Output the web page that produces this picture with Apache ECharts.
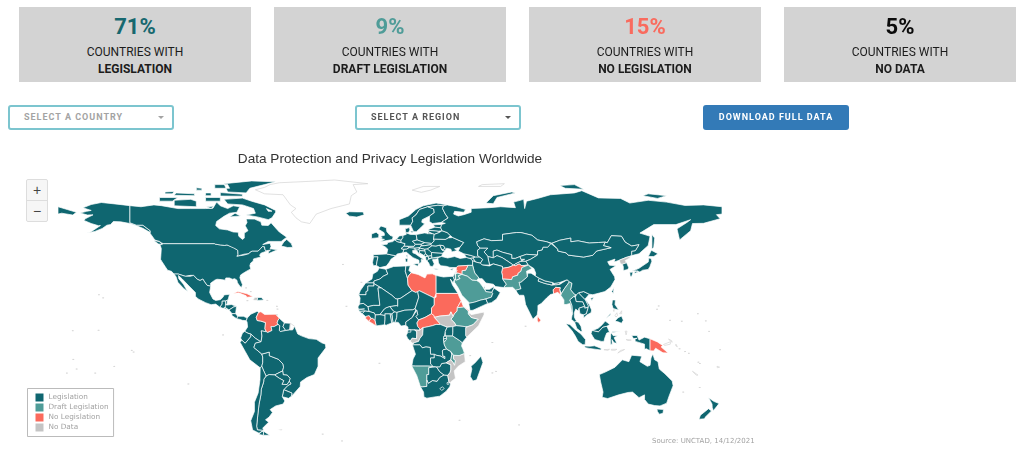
<!DOCTYPE html>
<html>
<head>
<meta charset="utf-8">
<title>Data Protection and Privacy Legislation Worldwide</title>
<script src="https://cdn.jsdelivr.net/npm/echarts@6/dist/echarts.min.js"></script>
<style>
  html, body { margin: 0; padding: 0; background: #fff; overflow: hidden; }
  #page { position: relative; width: 1024px; height: 449px; font-family: Roboto, sans-serif; }
  #worldMap { position: absolute; left: 0; top: 0; width: 1024px; height: 449px; }
  .card { position: absolute; top: 7px; width: 232px; height: 75px; background: #d3d3d3; text-align: center; color: #1c1c1c; font-size: 12px; }
  .card .pct { font-size: 22px; font-weight: 700; line-height: 26px; margin-top: 7px; }
  .card .lab { line-height: 17px; margin-top: 4px; }
  .card b { font-weight: 700; }
  .select, .download { position: absolute; top: 105px; height: 25px; box-sizing: border-box; border-radius: 3px; font-size: 9px; font-weight: 700; letter-spacing: 1px; line-height: 21px; }
  .select { width: 166px; border: 2px solid #7cc5cf; padding-left: 14px; background: #fff; }
  .select i { position: absolute; right: 8px; top: 9px; width: 0; height: 0; border-left: 3px solid transparent; border-right: 3px solid transparent; border-top: 3px solid currentColor; }
  .download { left: 703px; width: 146px; background: #337ab7; color: #fff; text-align: center; line-height: 25px; }
  .zoom { position: absolute; left: 26px; top: 179px; width: 20px; height: 41px; border: 1px solid #ddd; border-radius: 2px; background: #f6f6f6; color: #444; text-align: center; font: 400 14px/20px "Liberation Sans", sans-serif; }
  .zoom div + div { border-top: 1px solid #ddd; }
</style>
</head>
<body>
<div id="page">
  <div id="worldMap"></div>
  <div id="cards"></div>
  <div class="select" style="left:8px;color:#a3a3a3">SELECT A COUNTRY<i></i></div>
  <div class="select" style="left:355px;color:#555">SELECT A REGION<i></i></div>
  <div class="download">DOWNLOAD FULL DATA</div>
  <div class="zoom"><div>+</div><div>&minus;</div></div>
</div>
<script>
var statValues = ['71%', '9%', '15%', '5%'];
var statLabels = ['LEGISLATION', 'DRAFT LEGISLATION', 'NO LEGISLATION', 'NO DATA'];
var statColors = ['#17686f', '#4f9c98', '#f96b5e', '#0b0b0b'];
var statLefts = [19, 274, 529, 784];

var legendLabels = ['Legislation', 'Draft Legislation', 'No Legislation', 'No Data'];
var legendColors = ['#0f6670', '#4f9c98', '#fb6a5c', '#c4c4c4'];

var legislationCountries = ['USA', 'Canada', 'Mexico', 'Guatemala', 'Belize', 'Honduras', 'El Salvador', 'Nicaragua', 'Costa Rica', 'Panama', 'Dominican Rep.', 'Colombia', 'Guyana', 'Suriname', 'Ecuador', 'Peru', 'Bolivia', 'Brazil', 'Paraguay', 'Uruguay', 'Argentina', 'Chile', 'Iceland', 'Morocco', 'W. Sahara', 'Algeria', 'Tunisia', 'Egypt', 'Mauritania', 'Mali', 'Niger', 'Chad', 'Cameroon', 'Nigeria', 'Benin', 'Togo', 'Ghana', 'Burkina Faso', "Cote d'Ivoire", 'Guinea', 'Guinea-Bissau', 'Senegal', 'Gambia', 'Gabon', 'Eq. Guinea', 'DR Congo', 'Angola', 'Botswana', 'South Africa', 'Lesotho', 'Eswatini', 'Zimbabwe', 'Zambia', 'Kenya', 'Uganda', 'Rwanda', 'Burundi', 'Madagascar', 'Portugal', 'Spain', 'France', 'UK', 'Ireland', 'Netherlands', 'Belgium', 'Germany', 'Switzerland', 'Austria', 'Italy', 'Denmark', 'Norway', 'Sweden', 'Finland', 'Estonia', 'Latvia', 'Lithuania', 'Poland', 'Czechia', 'Slovakia', 'Hungary', 'Slovenia', 'Croatia', 'Bosnia', 'Serbia', 'Montenegro', 'Albania', 'N. Macedonia', 'Greece', 'Bulgaria', 'Romania', 'Moldova', 'Ukraine', 'Belarus', 'Turkey', 'Cyprus', 'Georgia', 'Armenia', 'Azerbaijan', 'Russia', 'Kazakhstan', 'Uzbekistan', 'Turkmenistan', 'Tajikistan', 'Kyrgyzstan', 'Caspian', 'Iran', 'Lebanon', 'Israel', 'Yemen', 'Oman', 'UAE', 'Qatar', 'India', 'Nepal', 'Bhutan', 'Thailand', 'Laos', 'Cambodia', 'Vietnam', 'China', 'Mongolia', 'Taiwan', 'South Korea', 'Japan', 'Philippines', 'Indonesia', 'Malaysia', 'Australia', 'New Zealand'];
var draftCountries = ['Namibia', 'Malawi', 'Tanzania', 'Ethiopia', 'Pakistan', 'Iraq', 'Jordan', 'Saudi Arabia', 'Myanmar'];
var noLegislationCountries = ['Cuba', 'Venezuela', 'Libya', 'Sudan', 'Eritrea', 'Central African Rep.', 'Liberia', 'Sierra Leone', 'Afghanistan', 'Syria', 'Bangladesh', 'Sri Lanka', 'Papua New Guinea'];
var noDataCountries = ['Haiti', 'Somalia', 'South Sudan', 'Congo', 'Mozambique', 'North Korea', 'Falklands'];
// drawn in the reference as an empty grey outline
var outlineOnly = ['Greenland', 'Svalbard', 'Franz Josef Land', 'French Guiana', 'Visayas', 'Melanesia', 'Lesser Sunda', 'Minor islands'];

var minorIslands = [[-157.8,21.3],[-155.5,19.6],[-149.5,-17.6],[-171.7,-13.8],[-175.2,-21.2],[-159.8,-21.2],[-140,-8.9],[-139,-9.8],[-172,1.8],[-158,2],[-109.3,-27.1],[-90.5,-0.5],[-78,25],[-75.5,23],[-77.3,18.1],[-66.5,18.2],[-61.3,15],[-61,13.5],[-61.3,10.4],[-15.5,28],[-25.5,37.7],[-23.6,15],[-5.7,-15.9],[-36.5,-54.3],[-26,-58],[57.5,-20.3],[55.5,-21.1],[43.5,-11.7],[55.5,-4.6],[73.5,4.2],[70,-49.3],[37.7,-46.8],[166.9,11],[158.2,6.9],[151.8,7.4],[144.8,13.4],[145.7,15.2],[171.2,7.1],[173,1.4],[179,-8.5],[168,-16],[167.2,-15.3],[160,-9.5],[157,-8],[162,-10.5],[-169.9,-19],[-176,-44],[159,-31.5],[167.9,-29]];

var worldShapes = {
  'USA': [
    [-141,69.6,-148,70.4,-156.5,71.3,-162,70.2,-166.5,68.4,-162,67,-164.5,66.5,-168,65.6,-164,64.5,-161,64.6,-165,62.6,-166,61.6,-162,59.9,-158,58.7,-157,58.8,-162,55.5,-164.5,54.7,-160,55.6,-156,57.2,-153.5,59,-151.5,59.3,-150,61,-146,60.8,-141,59.9,-137,58.5,-134,57.3,-130,55,-130,56,-134,59,-137.5,59,-141,60.3],
    [-124.7,48.4,-123,49,-95.2,49,-94.6,48.7,-92,48.3,-89.6,48,-88.4,48.3,-84.8,46.9,-84.5,46.5,-83.5,46,-82.5,45.3,-82.4,43,-83,42.2,-79,42.8,-79,43.3,-76.5,43.6,-76,44.3,-74.7,45,-71.5,45,-70.3,46.2,-69.2,47.4,-68,47.3,-67.8,45.7,-67,44.9,-70,43.8,-70.7,42.7,-70,41.8,-71.5,41.4,-74,40.7,-74.2,39.5,-75.5,38.5,-76,37,-75.5,35.3,-77.5,34.2,-79,33.3,-81,32,-81.4,30.5,-80.5,28,-80,26.8,-80.5,25.2,-81.3,25.8,-82.7,27.8,-83,29.2,-84.2,30,-85.5,29.7,-87,30.4,-89,30.4,-89.4,29.2,-91.5,29.5,-93.8,29.7,-95,29.2,-97.3,27.5,-97.2,25.9,-99.2,26.4,-100.5,28.2,-101.5,29.8,-103,29,-104.5,29.7,-106.5,31.8,-108.2,31.8,-108.2,31.3,-111,31.3,-114.8,32.5,-117.1,32.5,-118.5,34,-120.6,34.6,-122,36.7,-123.8,39.5,-124.4,40.5,-124.2,43,-124,46.3]
  ],
  'Canada': [
    [-141,69.6,-135,69,-128,70,-124,69.6,-115,68,-108,68,-100,68,-96,68.2,-94,71.5,-92,69.5,-88,68,-85,69.5,-81.5,69,-83,66,-87,65.5,-90,63.8,-94,61,-94.5,58.8,-92.5,57,-88,56.4,-85,55.3,-82.3,55.2,-82,53,-80,51.3,-79,52,-79,54.7,-77,56,-78.5,58.7,-77.5,60.5,-78,62.4,-73.5,62.3,-70,60.8,-69.5,59,-66,58.8,-64.5,60.3,-62,57.5,-60,55.3,-56,52.5,-59,50.2,-66,50.2,-69,48.5,-65,49.2,-64.5,47.5,-65,46.2,-61,45.7,-65.8,43.6,-66,44.5,-64.8,45.5,-67,45.2,-67.8,45.7,-68,47.3,-69.2,47.4,-70.3,46.2,-71.5,45,-74.7,45,-76,44.3,-76.5,43.6,-79,43.3,-79,42.8,-83,42.2,-82.4,43,-82.5,45.3,-83.5,46,-84.5,46.5,-84.8,46.9,-88.4,48.3,-89.6,48,-92,48.3,-94.6,48.7,-95.2,49,-123,49,-125,50,-127.5,51,-130,54.5,-130,55,-130,56,-134,59,-137.5,59,-141,60.3],
    [-123.5,48.4,-125.5,48.8,-128,50.5,-125,50.3],
    [-59,47.7,-55.5,46.9,-52.7,47,-53.5,49,-56,51.3,-57.5,50],
    [-62,66,-64,63,-66,62,-72,63.5,-78,64.5,-73,65.5,-74,68,-80,70,-88,70.5,-90,73,-80,73.7,-75,72,-68,70,-62,67],
    [-105,69,-117,69.5,-117,72.5,-108,73,-105,72],
    [-125,72,-118,72,-115,74,-125,74],
    [-62,82.5,-75,83,-90,81.5,-88,77,-78,76.5,-76,79,-68,81],
    [-80,74.7,-92,74.8,-92,76.7,-80,75.8],
    [-106,75,-117,75.2,-116,76.5,-106,76],
    [-87,79,-95,79,-95,81,-88,81],
    [-81,64,-87,63.5,-84,65.5],
    [-92,72,-100,72,-100,74,-92,74],
    [-99.5,69,-95.5,69.3,-97,68],
    [-97,75,-100,75,-100,76.5,-97,76.5],
    [-102,78,-105,78,-105,79.3,-102,79],
    [-118,76,-122,76,-122,77,-117,77.3],
    [-64,66.6,-67,68,-66,66.5]
  ],
  'Greenland': [[-73,78.2,-68,76,-58,75.5,-54,70,-51,68,-53.5,66,-51,63,-48,60.8,-43.5,59.9,-40,65,-32,68,-22,70.5,-21,75,-18,77,-20,81,-12,81.5,-30,83.5,-45,82.7,-60,82,-65,81,-68,79.5]],
  'Iceland': [[-24,65.5,-22,63.9,-18,63.4,-14,64.6,-14.6,66.2,-18,66.2,-22,66.3]],
  'Svalbard': [[12,78,17,76.8,22,78,27,80,18,80]],
  'Franz Josef Land': [[48,80,60,80,62,81.5,50,81]],
  'Mexico': [[-117.1,32.5,-114.8,32.5,-111,31.3,-108.2,31.3,-108.2,31.8,-106.5,31.8,-104.5,29.7,-103,29,-101.5,29.8,-100.5,28.2,-99.2,26.4,-97.2,25.9,-97.8,22.5,-96,19,-94.5,18.2,-92,18.6,-90.5,20,-90,21.2,-87,21.5,-87.8,18.5,-89.1,17.9,-91,17.8,-91,16.2,-92.2,14.5,-94.5,16.2,-97,15.9,-100,17,-104,19,-105.5,20.5,-105.5,22.5,-109,26,-112.8,30,-114.7,31.7,-114.5,30,-112,27,-109.7,23,-112,24.8,-115,28,-116,31]],
  'Guatemala': [[-92.2,14.5,-91,16.2,-91,17.8,-89.1,17.9,-89.2,15.9,-88.2,15.7,-89.3,14.4,-90.5,13.9]],
  'Belize': [[-89.1,17.9,-88.2,18.4,-88.3,16.4,-89.2,15.9]],
  'Honduras': [[-89.2,15.9,-88.2,15.7,-86,16,-83.2,15,-84.7,14.7,-87.3,13,-87.7,13.5,-89.3,14.4]],
  'El Salvador': [[-90,14,-88,13.2,-87.7,13.5,-89.3,14.4]],
  'Nicaragua': [[-87.3,13,-84.7,14.7,-83.2,15,-83.7,11,-85.7,11.1]],
  'Costa Rica': [[-85.7,11.1,-83.7,11,-82.6,9.6,-83,8.2,-85.7,10]],
  'Panama': [[-83,8.2,-82.6,9.6,-79.5,9.6,-77.4,8.7,-77.9,7.2,-80,7.4,-81.7,8]],
  'Cuba': [[-85,22,-82.5,23.1,-77.5,21.8,-74.2,20.2,-77.7,19.9,-78,20.7,-82,22.3]],
  'Haiti': [[-74.4,18.4,-72,18.2,-71.7,19.8,-73.2,19.9]],
  'Dominican Rep.': [[-71.7,19.8,-72,18.2,-68.4,18.5,-69.8,19.8]],
  'Colombia': [[-77.4,8.7,-75.5,10.7,-72,12.3,-71.3,11.6,-72.5,9,-72,7.3,-70,7,-67.5,6.2,-67.8,2.8,-67,1.2,-69.8,1.7,-69.4,-1.1,-69.9,-4.2,-70.7,-3.8,-73,-2.3,-75.3,-0.1,-77,0.4,-78.8,1.4,-77.2,3.8,-77.5,6.5,-77.9,7.2]],
  'Venezuela': [[-71.3,11.6,-70,12.1,-68,10.6,-62,10.7,-60,8.5,-60.7,7.5,-61.2,6,-60.7,5.2,-62.8,4,-64.5,4,-64,1.9,-66.3,0.8,-67,1.2,-67.8,2.8,-67.5,6.2,-70,7,-72,7.3,-72.5,9]],
  'Guyana': [[-60,8.5,-57.2,6,-58,4,-56.5,1.9,-59.5,1.3,-60,2,-59.8,4.5,-60.7,5.2,-61.2,6,-60.7,7.5]],
  'Suriname': [[-57.2,6,-54,5.8,-54.4,2.2,-56.5,1.9,-58,4]],
  'French Guiana': [[-54,5.8,-51.7,4.2,-52.8,2.2,-54.4,2.2]],
  'Ecuador': [[-78.8,1.4,-77,0.4,-75.3,-0.1,-75.5,-1.5,-78.5,-5,-80.3,-3.4,-81,-2.2,-80,0.5]],
  'Peru': [[-81.3,-4.5,-80.3,-3.4,-78.5,-5,-75.5,-1.5,-75.3,-0.1,-73,-2.3,-70.7,-3.8,-69.9,-4.2,-73,-5,-73.8,-7.3,-69.5,-10.9,-69,-12.5,-69,-15.5,-69.5,-17.5,-70.4,-18.3,-76,-14,-78.5,-9.5]],
  'Bolivia': [[-69.5,-10.9,-65.4,-9.8,-65.4,-11.8,-60.5,-13.7,-58,-16.3,-57.7,-18,-58.2,-20,-62.6,-22.2,-65.5,-22,-67.2,-22.8,-68.7,-19.5,-69.5,-17.5,-69,-15.5,-69,-12.5]],
  'Brazil': [[-51.7,4.2,-50,0,-48,-1,-44,-2.5,-40,-2.9,-37,-4.8,-35,-5.5,-34.8,-7.5,-39,-13,-39,-17.5,-41,-22,-45,-23.6,-48.5,-26,-48.7,-28.5,-52,-32.2,-53.4,-33.7,-53.2,-32,-57.6,-30.2,-55.5,-28,-53.7,-27,-54.6,-25.6,-54.2,-24,-55.7,-22.3,-57.9,-22.1,-58.2,-20,-57.7,-18,-58,-16.3,-60.5,-13.7,-65.4,-11.8,-65.4,-9.8,-69.5,-10.9,-73.8,-7.3,-73,-5,-69.9,-4.2,-69.4,-1.1,-69.8,1.7,-67,1.2,-66.3,0.8,-64,1.9,-64.5,4,-62.8,4,-60.7,5.2,-59.8,4.5,-60,2,-59.5,1.3,-56.5,1.9,-54.4,2.2,-52.8,2.2]],
  'Paraguay': [[-58.2,-20,-57.9,-22.1,-55.7,-22.3,-54.2,-24,-54.6,-25.6,-55.8,-27.4,-58.6,-27.3,-57.6,-25.3,-60,-24,-62.6,-22.2]],
  'Uruguay': [[-57.6,-30.2,-53.2,-32,-53.4,-33.7,-55,-34.9,-58.4,-34,-58,-32]],
  'Argentina': [
    [-67.2,-22.8,-65.5,-22,-62.6,-22.2,-60,-24,-57.6,-25.3,-58.6,-27.3,-55.8,-27.4,-54.6,-25.6,-53.7,-27,-55.5,-28,-57.6,-30.2,-58,-32,-58.4,-34,-57,-36.3,-58,-38,-62,-39,-65,-41,-63.7,-42.5,-65.5,-45,-67.5,-46.5,-65.8,-47.8,-69,-51,-68.4,-52.3,-71.9,-52,-72.3,-50,-71.7,-44,-71,-38,-70,-33,-69.8,-30,-68.5,-26,-68.4,-24.5],
    [-68.6,-52.7,-65.2,-54.9,-68.6,-54.9]
  ],
  'Chile': [
    [-70.4,-18.3,-69.5,-17.5,-68.7,-19.5,-67.2,-22.8,-68.4,-24.5,-68.5,-26,-69.8,-30,-70,-33,-71,-38,-71.7,-44,-72.3,-50,-71.9,-52,-68.4,-52.3,-71,-53.8,-74.5,-52,-75.5,-47,-73.5,-42,-73.5,-37,-71.5,-32,-70.5,-25],
    [-68.6,-52.7,-68.6,-54.9,-71,-54.5,-70,-53]
  ],
  'Falklands': [[-61,-51.8,-58,-51.5,-59,-52.3]],
  'Morocco': [[-5.9,35.8,-2.2,35.1,-1.2,32.5,-3.7,31.3,-5.5,29.8,-8.7,28.7,-8.7,27.7,-13.2,27.7,-9.8,29.8,-9.3,32.5,-6.8,34]],
  'W. Sahara': [[-8.7,27.7,-8.7,26,-12,26,-12,23.4,-13,23,-13,21.3,-17,21.3,-16,23.7,-13.2,27.7]],
  'Algeria': [[-2.2,35.1,2,36.6,8.6,36.9,8.3,34,9.5,30.2,9.8,26.5,11.9,23.5,5.8,19.4,4.2,19,3.2,19,1,21,-4.8,25,-8.7,27.3,-8.7,28.7,-5.5,29.8,-3.7,31.3,-1.2,32.5]],
  'Tunisia': [[8.6,36.9,11,37,10.2,34.5,11.5,33.2,10,31.5,9.5,30.2,8.3,34]],
  'Libya': [[11.5,33.2,15.2,32.3,19,30.4,20,32.5,23,32.6,25,31.7,25,22,24,19.5,16,23.4,15,23,14,22.5,11.9,23.5,9.8,26.5,9.5,30.2,10,31.5]],
  'Egypt': [[25,31.7,29,30.9,32.5,31.2,34.2,31.3,34.9,29.5,34.2,27.8,32.7,29.8,33.9,26.5,36.9,22,25,22]],
  'Mauritania': [[-17,21.3,-13,21.3,-13,23,-12,23.4,-12,26,-8.7,26,-8.7,27.3,-4.8,25,-6.5,25,-5.5,15.5,-9,15.5,-12,14.8,-14.5,16.6,-16.5,16.2,-16.2,19.5]],
  'Mali': [[-4.8,25,1,21,3.2,19,4.2,19,4.2,15,3.5,15.4,1,15,0,14.9,-2,14.2,-3,13.6,-5.5,10.5,-8,10.3,-8.5,11.4,-11.4,12.2,-12,14.8,-9,15.5,-5.5,15.5,-6.5,25]],
  'Niger': [[4.2,19,5.8,19.4,11.9,23.5,14,22.5,15,23,15.6,19.9,13.6,13.7,12.3,13.1,8,12.9,3.7,11.7,2.4,12,1,13.3,0,14.9,1,15,3.5,15.4,4.2,15]],
  'Chad': [[15,23,16,23.4,24,19.5,24,15.7,22.5,14,22.5,11,19,9,15.5,7.6,14,9.5,15,10.5,14.5,12.8,13.6,13.7,15.6,19.9]],
  'Sudan': [[25,22,36.9,22,37.4,20.5,38.6,18,36.5,14.3,36.4,12.5,35,11,34.2,9.5,33,12,32.3,10.2,27,9.7,24,9,23.8,10,22.5,11,22.5,14,24,15.7,24,19.5,25,20]],
  'Eritrea': [[36.5,14.3,38.6,18,39.7,15.1,43.1,12.6,42.4,12.5,40,14.6,38,14.4]],
  'Ethiopia': [[36.5,14.3,38,14.4,40,14.6,42.4,12.5,42.5,11,44,9,47.9,8,45,5,41.9,3.9,40.8,4,36,4.5,34.6,6.5,33,8,34.2,9.5,35,11,36.4,12.5]],
  'Somalia': [[42.5,11,43.3,11.4,44,10.5,51,11.9,51,10.4,48,4.5,41.6,-1.7,41,-0.9,41,3.5,41.9,3.9,45,5,47.9,8,44,9]],
  'South Sudan': [[24,9,27,9.7,32.3,10.2,33,12,34.2,9.5,33,8,34.6,6.5,36,4.5,34,4,31,3.7,27.4,5.1]],
  'Central African Rep.': [[14.5,6,15.5,7.6,19,9,22.5,11,23.8,10,24,9,27.4,5.1,25,5.2,23,4.5,19,3.6,18,3.5,16,2,16,3,15,4]],
  'Cameroon': [[8.5,4.7,9.7,3.8,9.8,2.2,13.3,2.2,16,2,16,3,15,4,14.5,6,15.5,7.6,14,9.5,15,10.5,14.5,12.8,14,13,12,9,8.5,6.5]],
  'Nigeria': [[2.7,6.4,4.5,6.3,6,4.3,8.5,4.7,8.5,6.5,12,9,14,13,13.6,13.7,12.3,13.1,8,12.9,3.7,11.7,3.6,9]],
  'Benin': [[1.6,6.2,2.7,6.4,3.6,9,3.7,11.7,2.4,12,1,11,0.9,10.9]],
  'Togo': [[0.9,6,1.6,6.2,0.9,10.9,0,11]],
  'Ghana': [[-3,5,-2,4.8,0.9,6,0,11,-2.8,11,-2.8,8]],
  'Burkina Faso': [[-5.5,10.5,-3,13.6,-2,14.2,0,14.9,1,13.3,2.4,12,1,11,0,11,-2.8,11,-2.8,10]],
  "Cote d'Ivoire": [[-7.5,4.4,-3,5,-2.8,8,-2.8,10,-5.5,10.5,-8,10.3,-8.2,7.5]],
  'Liberia': [[-11.5,6.9,-7.5,4.4,-8.2,7.5,-9.4,8.5,-10.3,8.5]],
  'Sierra Leone': [[-13.3,8.5,-11.5,6.9,-10.3,8.5,-11.3,10,-12.8,10]],
  'Guinea': [[-15,11,-13.3,9.5,-12.8,10,-11.3,10,-10.3,8.5,-9.4,8.5,-8.2,7.5,-8,10.3,-8.5,11.4,-11.4,12.2,-13.7,12.6]],
  'Guinea-Bissau': [[-16.7,12.3,-13.7,12.6,-15,11]],
  'Senegal': [[-17.4,14.7,-16.5,16.2,-14.5,16.6,-12,14.8,-11.4,12.2,-13.7,12.6,-16.7,12.3]],
  'Gambia': [[-16.8,13.5,-13.8,13.6,-13.8,13.2,-16.8,13.1]],
  'Gabon': [[8.8,-0.7,9.7,1,9.8,2.2,13.3,2.2,14.5,1.3,14.5,-0.5,14.4,-2.5,12,-2.3,11,-3.8,9.5,-2.3]],
  'Eq. Guinea': [[9.4,1,11.3,1,11.3,2.2,9.8,2.2]],
  'Congo': [[11,-3.8,12,-2.3,14.4,-2.5,14.5,-0.5,14.5,1.3,13.3,2.2,16,2,18,3.5,17.7,-0.5,16.2,-2.4,15.5,-4,13,-4.8,12,-5]],
  'DR Congo': [[12.2,-5.9,13,-4.8,15.5,-4,16.2,-2.4,17.7,-0.5,18,3.5,19,3.6,23,4.5,25,5.2,27.4,5.1,31,3.7,30,1.5,29.6,-1,29,-2.7,29.2,-4.4,29.5,-6,30.7,-8.2,28.9,-8.5,28.4,-9.2,28.7,-12,29.8,-12.2,29.8,-13.4,27.5,-12,25,-11.5,24,-11,22,-11,21.8,-7.3,19.5,-7,17.5,-7.5,16.3,-5.9,13,-5.9]],
  'Angola': [[12.2,-6,13,-5.9,16.3,-5.9,17.5,-7.5,19.5,-7,21.8,-7.3,22,-11,24,-11,24,-13,22,-13,22,-16.2,23.4,-17.6,20.5,-17.4,13.9,-17.4,11.8,-17.3,12.5,-13.5,13.8,-11,13,-8.5]],
  'Namibia': [[11.8,-17.3,13.9,-17.4,20.5,-17.4,23.4,-17.6,25.2,-17.8,23,-18,21,-18.3,21,-22,20,-22,20,-28.4,17.5,-28.7,16.5,-28.6,14.5,-22.5]],
  'Botswana': [[20,-22,21,-22,21,-18.3,23,-18,25.2,-17.8,27,-20.5,29.3,-22.2,27,-23.6,25.5,-25.7,23,-25.3,20.8,-26.8,20,-25]],
  'South Africa': [[16.5,-28.6,17.5,-28.7,20,-28.4,20,-25,20.8,-26.8,23,-25.3,25.5,-25.7,27,-23.6,29.3,-22.2,31.3,-22.4,32,-26,32.9,-26.8,32.4,-28.6,30.5,-31,27,-33.7,25,-34,20,-34.8,18.4,-34.2,18.2,-31.5]],
  'Lesotho': [[27,-29.6,28.5,-28.6,29.4,-29.6,28,-30.6]],
  'Eswatini': [[30.9,-26.4,32,-26,32,-27.2,31,-27.3]],
  'Zimbabwe': [[25.2,-17.8,27,-17.8,28,-16,30.4,-15.6,33,-16.7,33,-19.5,32.5,-21,31.3,-22.4,29.3,-22.2,27,-20.5]],
  'Zambia': [[22,-13,24,-13,24,-11,25,-11.5,27.5,-12,29.8,-13.4,29.8,-12.2,28.7,-12,28.4,-9.2,28.9,-8.5,30.7,-8.2,33,-9.5,33.5,-11,33,-14,30.4,-15.6,28,-16,27,-17.8,25.2,-17.8,23.4,-17.6,22,-16.2]],
  'Malawi': [[33,-9.5,34.4,-11.5,34.5,-13.5,35.5,-14.5,35,-17,34.2,-15.5,33,-14,33.5,-11]],
  'Mozambique': [[40.4,-10.5,40.8,-15,37,-17.5,34.8,-20,35.5,-24,32.9,-26,32.9,-26.8,32,-26,31.3,-22.4,32.5,-21,33,-19.5,33,-16.7,30.4,-15.6,33,-14,34.2,-15.5,35,-17,35.5,-14.5,34.5,-13.5,34.4,-11.5,37.5,-11.7]],
  'Tanzania': [[30,-1,33.9,-1,37.7,-3.5,39.2,-4.7,38.8,-6.5,39.5,-8,40.4,-10.5,37.5,-11.7,34.4,-11.5,33,-9.5,30.7,-8.2,29.5,-6,29.2,-4.4,30.5,-3]],
  'Kenya': [[34,4,36,4.5,40.8,4,41.9,3.9,41,3.5,41,-0.9,41.6,-1.7,39.2,-4.7,37.7,-3.5,33.9,-1,34,1]],
  'Uganda': [[31,3.7,34,4,34,1,33.9,-1,30,-1,29.6,-1,30,1.5]],
  'Rwanda': [[29,-1.3,30.5,-1.1,30.7,-2.3,29,-2.7]],
  'Burundi': [[29,-2.7,30.7,-2.3,30.5,-3,29.5,-4.4,29.2,-4.4]],
  'Madagascar': [[49.3,-12,50.4,-15.5,47,-24.8,45,-25.5,43.5,-23,44.4,-19,43.9,-17.5,46,-15.7]],
  'Portugal': [[-8.9,41.9,-6.5,41.9,-7,39.5,-7.4,37.2,-9,37,-9.5,38.7]],
  'Spain': [[-9.2,43,-1.8,43.4,3.2,42.4,0.5,40.5,-0.3,39,-2,36.8,-5.5,36,-7.4,37.2,-7,39.5,-6.5,41.9,-8.9,41.9]],
  'France': [
    [-4.7,48.4,-1.5,48.7,-1.2,49.6,1.5,50.1,2.5,51,4.2,50,6,49.6,8.2,49,7.6,47.6,6,46.3,7.6,45.9,7,44,3.9,43.4,3.2,42.4,-1.8,43.4,-1.2,46,-2.5,47.2],
    [8.7,42.5,9.5,43,9.4,41.4,8.9,41.5]
  ],
  'UK': [[-5.5,50,1.3,51.2,1.7,52.8,0,53.5,-1.7,55.5,-2,57.6,-5,58.6,-6.2,56.8,-3.2,54.9,-3,53.5,-5,53,-4.2,52,-5.2,51.7,-3,51.3]],
  'Ireland': [[-10,51.8,-6.2,52.2,-6,53.9,-7.5,55.2,-10,54.2]],
  'Netherlands': [[3.5,51.4,6,50.8,7,52.3,7,53.4,5,53.2]],
  'Belgium': [[2.5,51,3.5,51.4,6,50.8,6,49.6,4.2,50]],
  'Germany': [[6,50.8,7,52.3,7,53.4,8.8,54,8.6,54.9,11,54,14.2,53.9,14.7,51,12.2,50.3,13.8,48.7,13,47.5,9.5,47.5,7.6,47.6,8.2,49,6,49.6]],
  'Switzerland': [[6,46.3,7.6,47.6,9.5,47.5,10.4,46.8,9,46,7.6,45.9]],
  'Austria': [[9.5,47.5,13,47.5,13.8,48.7,17,48.7,16.9,47.7,16,46.8,13.5,46.5,10.4,46.8]],
  'Italy': [
    [7,44,7.6,45.9,9,46,10.4,46.8,13.5,46.5,13.7,45.6,12.3,45.3,12.4,44,13.7,43.5,16,41.9,18.5,40.2,16.9,40.4,17,39,15.8,38,15.7,40,12.5,41.4,10.5,43,8.8,44.4],
    [12.5,38,15.6,38.2,15,36.7],
    [8.2,41,9.7,41,9.5,39.1,8.5,39]
  ],
  'Denmark': [[8.6,54.9,10,55,10.8,56.4,10.5,57.7,8.2,57],[11,55.7,12.6,55.8,12,54.8]],
  'Norway': [[5,59,5,62,10,64,14,67.5,18,69.5,25,71,31,70,29,69.5,26,69.8,20.5,69,16,67.5,14,64.5,12,63,12.3,61,11.2,59]],
  'Sweden': [[11.2,59,12.3,61,12,63,14,64.5,16,67.5,20.5,69,23.7,67.8,24,65.8,21.5,64,17.5,62,17.2,60.6,18.8,59.8,16.5,57.5,14.3,55.5,12.8,55.5]],
  'Finland': [[20.5,69,26,69.8,29,69.5,28.5,68,30,65,31.5,62.9,27.8,60.5,23,59.9,21.3,61,21.5,64,24,65.8,23.7,67.8]],
  'Estonia': [[23.5,59.2,28,59.4,27.5,57.6,24.3,57.9]],
  'Latvia': [[21,56.8,24.3,57.9,27.5,57.6,28.2,56,26,55.7,21,56.2]],
  'Lithuania': [[21,56.2,26,55.7,26.7,55,24,54,23,54.4,21,55.3]],
  'Poland': [[14.2,53.9,18.6,54.8,23,54.4,24,54,23.6,51.5,24,50.5,22.6,49.1,19,49.4,18.8,49.5,14.7,51]],
  'Czechia': [[12.2,50.3,14.7,51,18.8,49.5,17,48.7,13.8,48.7]],
  'Slovakia': [[17,48.7,18.8,49.5,19,49.4,22.6,49.1,22.1,48.4,18.8,47.9,16.9,47.9]],
  'Hungary': [[16,46.8,16.9,47.7,18.8,47.9,22.1,48.4,22.8,47.9,20.3,46.1,18.8,45.9,16.5,46.5]],
  'Slovenia': [[13.5,46.5,16,46.8,16.5,46.5,15.3,45.5,13.7,45.5]],
  'Croatia': [[13.7,45.5,15.3,45.5,16.5,46.5,18.8,45.9,19,45,16,45.2,16,44,18.5,42.5,15.5,43.8,14.5,45.2]],
  'Bosnia': [[16,45.2,19,45,19.5,44,18.5,42.5,16,44]],
  'Serbia': [[19,45,18.8,45.9,20.3,46.1,22.5,44.6,22.6,42.4,20.7,42.2,20.2,42.7,19.2,43.5,19.5,44]],
  'Montenegro': [[18.5,42.5,19.2,43.5,20.2,42.7,19.3,41.9]],
  'Albania': [[19.3,41.9,20.6,42.2,21,40.5,20,39.7,19.4,40.5]],
  'N. Macedonia': [[20.7,42.2,22.6,42.4,22.8,41.2,21,40.9]],
  'Greece': [[20,39.7,21,40.5,22.8,41.2,26,41.4,26,40.8,23,40.3,24,38,23,36.5,21.6,36.9,21,38.5],[23.5,35.5,26.3,35.3,25,34.9]],
  'Bulgaria': [[22.6,42.4,22.5,44.2,28.6,43.8,27.9,42,26.3,41.8,22.8,41.2]],
  'Romania': [[20.3,46.1,22.8,47.9,24.9,47.7,27,48.2,28.2,45.5,29.7,45.2,28.6,43.8,22.5,44.2]],
  'Moldova': [[27,48.2,29,47.9,30,46.4,28.2,45.5]],
  'Ukraine': [[22.6,49.1,24,50.5,23.6,51.5,30,51.3,31.5,52.1,34,52.3,40,49.6,38,47.1,35,46.2,36.5,45.3,33.5,44.5,33,46,30.7,46.5,29.7,45.2,28.2,45.5,30,46.4,29,47.9,27,48.2,24.9,47.7,22.8,47.9,22.1,48.4]],
  'Belarus': [[23.6,51.5,24,54,26.7,55,28.2,56,31,55,32.7,53.4,31.5,52.1,30,51.3]],
  'Turkey': [[26,40.8,26,41.4,28,42,31.3,41.2,35,42,38,41,41.5,41.5,43.5,41,44.8,39.7,44.8,37.2,42.3,37.2,36.7,36.8,36,36,32.5,36.1,30.5,36.7,27.5,37,26.3,38.5]],
  'Cyprus': [[32.3,35,34.5,35.6,33.7,34.6]],
  'Georgia': [[40,43.5,43.5,42.7,46.4,41.8,45,41.2,43.5,41,41.5,41.5]],
  'Armenia': [[43.5,41,45,41.2,46.5,39,44.8,39.7]],
  'Azerbaijan': [[45,41.2,46.4,41.8,48.6,41.8,50.3,40.4,49,38.4,46.5,39]],
  'Russia': [
    [27.8,60.5,31.5,62.9,30,65,28.5,68,29,69.5,31,70,36,69,41,67.5,40,66,35,66.5,34.5,65,37,64,40,64.7,44,66,44,68,54,68.5,60,69,68,68.5,67,71.5,72.5,73,73,68,74,72,80,73.5,87,75.5,100,76.5,104,77.7,113,73.8,125,73.5,130,71,140,72.5,150,71.5,160,69.7,170,70,180,69,180,65,177,64.7,179,62.5,170,60,164,59.9,163,56,157,51,155.6,57,161,60.5,163,62,155,59.3,143,59.3,135.5,54.7,141,53,140,48,135,43.5,131,42.5,130.7,42.3,131,43,131,44.9,133,45.2,135,48.4,131,47.7,127.5,49.8,125.5,53,120,53.3,117.8,49.5,116.7,49.8,113,49.6,108,49.3,102,50.5,98,50,98,52,92,50.8,87.8,49.2,85,50,80,51,77,53.5,71,55,68.5,55,61,54,61,50.8,55,50.6,51,51.6,47,50,47.5,48,49,46.5,47.5,45.5,47.5,42.5,48.6,41.8,46.4,41.8,43.5,42.7,40,43.5,37,45,38,47.1,40,49.6,34,52.3,32.7,53.4,31,55,28.2,56,27.5,57.6,28,59.4,30,60],
    [-180,69,-175,67.5,-170,66,-172,64.5,-178,65.5,-180,65],
    [142,54,143.5,52,143,47,142,46,142,50],
    [52,71,56,70.6,58,74,68,76.5,66,77,56,75],
    [95,79,105,78.5,100,81,92,80.5],
    [137,75,145,73.5,150,75,140,76],
    [20,54.4,22.8,54.4,21,55.2]
  ],
  'Kazakhstan': [[47.5,48,47,50,51,51.6,55,50.6,61,50.8,61,54,68.5,55,71,55,77,53.5,80,51,85,50,87.3,49,85.5,47,83,47,82.5,45.5,80,45,80,42.8,74,43.2,70.5,42,68,41,66,41,66,43,61,44.3,58,45.5,56,45,56,41.3,53,42,52.5,42.8,51,44.5,53,46.5,49,46.5]],
  'Uzbekistan': [[56,41.3,56,45,58,45.5,61,44.3,66,43,66,41,68,41,70.5,42,71,40.5,73,40.5,71,39.5,68,38,67,37.3,64.5,39,61,41.3,58,42.5]],
  'Turkmenistan': [[53,42,56,41.3,58,42.5,61,41.3,64.5,39,67,37.3,64.5,36.2,61,35.6,61,36.6,56,38,54,37.4,53.5,39.5]],
  'Tajikistan': [[67,37.3,68,38,71,39.5,73.7,39.5,75,37.4,71.5,37,70,38,68,37]],
  'Kyrgyzstan': [[70.5,42,74,43.2,80,42.8,76,40.4,73.7,39.5,71,39.5,73,40.5,71,40.5]],
  'Caspian': [[49,46.5,53,46.5,51,44.5,52.5,42.8,53,42,53.5,39.5,54,37.4,54,36.9,50,37.4,49,38.4,50.3,40.4,48.6,41.8,47.5,42.5,47.5,45.5]],
  'Afghanistan': [[61,35.6,64.5,36.2,67,37.3,68,37,70,38,71.5,37,75,37.4,71.5,36,71,34,69.5,33,69.3,31.9,66.5,31,66,29.5,61,29.8,61,31.5,60.5,33.5]],
  'Pakistan': [[61,29.8,66,29.5,66.5,31,69.3,31.9,69.5,33,71,34,71.5,36,75,37.4,77,35.5,74,34,74.5,31,71,28,70,28,71,24.5,68.2,23.7,66.5,25.3,61.6,25.2,63,27]],
  'Iran': [[44.8,39.7,46.5,39,49,38.4,50,37.4,54,36.9,54,37.4,56,38,61,36.6,61,35.6,60.5,33.5,61,31.5,61,29.8,63,27,61.6,25.2,57.3,25.7,56,27,52,27.6,50,30,48.5,30,47.7,31,46,33,45.5,34.5,44.8,37.2]],
  'Iraq': [[42.3,37.2,44.8,37.2,45.5,34.5,46,33,47.7,31,48.5,30,47.7,30,47,29,44.5,29.2,42,31.3,39,32.3,39,34.3,41,34.6]],
  'Syria': [[36,36,36.7,36.8,42.3,37.2,41,34.6,39,34.3,39,32.3,36.8,33,35.8,33.3]],
  'Lebanon': [[35.1,33.1,35.8,33.3,36.4,34.6,35.9,34.6]],
  'Israel': [[34.3,31.3,35.1,33.2,35.6,33.2,35.5,29.5,34.9,29.5]],
  'Jordan': [[35.5,29.5,35.6,32.7,36.8,33,39,32.3,37,31.5,38,30,36,29.2]],
  'Saudi Arabia': [[34.9,29.5,36,29.2,38,30,37,31.5,39,32.3,42,31.3,44.5,29.2,47,29,48.5,28,50,26,51,24.6,52,23,55.2,22.7,55.7,22,55,20,52,19,48.9,18.3,46,17.3,43.2,16.7,42.7,16.4,39,21,37,25,35,28]],
  'Yemen': [[43.2,16.7,46,17.3,48.9,18.3,52,19,53,16.6,45,12.9,43.4,12.7,42.7,16.4]],
  'Oman': [[52,19,55,20,55.7,22,55.2,22.7,56.3,25,59.8,22.5,57.8,19,55,17,53,16.6]],
  'UAE': [[51.5,24.2,54,24.2,56.3,25.7,56.3,24.9,55.2,22.7,52,23]],
  'Qatar': [[50.8,24.8,51.5,24.8,51.3,26.1]],
  'India': [[68.2,23.7,71,24.5,70,28,71,28,74.5,31,74.7,33,76.5,33,78.8,31.5,81,30.2,80.3,28.7,84,27.4,88,26.5,89.8,26.7,92,26.9,96,29.4,97.3,28.3,94.5,24.5,93,22,92,24,92.3,25.1,89.8,25.3,88.5,24,88.7,21.8,87,21.4,85,19.6,82,16.5,80.2,15.5,80.2,13,79.8,10.3,77.5,8,76,11,73.5,16,72.8,20,72.5,21,70,21,69,22.3]],
  'Nepal': [[80.3,28.7,81,30.2,84,28.8,88.2,27.9,88,26.5,84,27.4]],
  'Bhutan': [[89,27.4,92,27.9,92,26.9,89.8,26.7]],
  'Bangladesh': [[88.5,24,89.8,25.3,92.3,25.1,92,24,92.6,21,91,22.6,88.7,21.8]],
  'Sri Lanka': [[80,9.7,81.8,7.5,80.6,6,79.8,7.5]],
  'Myanmar': [[92.6,21,93,22,94.5,24.5,97.3,28.3,98.7,27.5,98,24,100,21.6,101,21.2,99.5,20.2,97.5,18.5,98.7,15.3,99,11,98.5,12,97.6,16.5,95.5,16,94.3,16,94.3,18.5]],
  'Thailand': [[97.5,18.5,99.5,20.2,100.5,20,101,17.6,104.5,17.5,105.6,15,102.5,14,102,12.5,100.7,13.5,99.9,11.5,100,9,101.3,6.7,100,6.5,98.3,8,98.7,10,99,11,98.7,15.3]],
  'Laos': [[101,21.2,102.2,22.4,104,20.5,106,18.5,107.5,15.5,107.5,14.5,105.6,14,105.6,15,104.5,17.5,101,17.6,100.5,20]],
  'Cambodia': [[102.5,14,105.6,15,105.6,14,107.5,14.5,106.5,11,105,10.4,103,11]],
  'Vietnam': [[102.2,22.4,105,23,108,21.6,105.8,19,108,16,109.3,13,109,11.5,106.7,10.3,105,8.7,105,10.4,106.5,11,107.5,14.5,107.5,15.5,106,18.5,104,20.5]],
  'China': [
    [73.7,39.5,76,40.4,80,42.8,80,45,82.5,45.5,83,47,85.5,47,87.3,49,87.8,49.2,91,46,91,45,95.5,44,96.5,42.8,105,41.7,110,42.7,112,45,119.9,46.8,115.7,47.9,116.7,49.8,117.8,49.5,120,53.3,125.5,53,127.5,49.8,131,47.7,135,48.4,133,45.2,131,44.9,131,43,130.7,42.3,128,41.5,124.3,40,121.5,39,122,40.6,118,39.2,119,37.3,122.5,37,119.3,35,121.8,31,122,29.5,119.7,25.5,116.5,23,113.5,22.2,110,21.3,108,21.6,105,23,102.2,22.4,101,21.2,100,21.6,98,24,98.7,27.5,97.3,28.3,96,29.4,92,27.9,89,27.4,88.2,27.9,84,28.8,81,30.2,78.8,31.5,79,33,78,35.5,75,37.4],
    [108.7,19.3,110.5,20,111,19.6,109.5,18.2]
  ],
  'Mongolia': [[87.8,49.2,92,50.8,98,52,98,50,102,50.5,108,49.3,113,49.6,116.7,49.8,115.7,47.9,119.9,46.8,112,45,110,42.7,105,41.7,96.5,42.8,95.5,44,91,45,91,46]],
  'Taiwan': [[120.2,23,121.5,25.2,121,22]],
  'North Korea': [[124.3,40,128,41.5,130.7,42.3,129.7,41,127.5,39.8,128.3,38.6,126,37.8,125,38]],
  'South Korea': [[126,37.8,128.3,38.6,129.4,36,129,35,126.5,34.4,126.5,36.5]],
  'Japan': [
    [131,34,135,35.6,137,37,140,39,140.3,41.2,141.5,41,142,39.5,140.9,36.5,140,35,137,34.6,135.5,33.6,133,34.3],
    [140,42,141.7,45.4,145.3,43.5,143,42],
    [130,33.5,131.8,33.5,131,31.2,130.2,31.3],
    [132.5,33.8,134.5,34.2,134,33.4,132.7,32.9]
  ],
  'Philippines': [
    [120.3,16,120.6,18.5,122.2,18.4,122,16,124,13,121,13.8],
    [122,7,123.5,8.7,125.5,9.8,126.5,7.5,125.5,5.8,124,6.5],
    [117.2,8.4,119.5,11.2,119.6,10.4]
  ],
  'Visayas': [[122,10,123,11.5,123.4,10,122.5,9.2],[124.5,11,125.6,12.6,125.6,11],[121,12.5,121.5,13.4,121.5,12.2]],
  'Indonesia': [
    [95.3,5.6,97.5,5.2,100.3,2.5,103.5,0,106,-3,105.8,-5.8,104.5,-5.8,102,-4,100.4,-1,98.7,1.7],
    [105.3,-6.5,108.5,-6.6,110.9,-6.4,114.5,-7.8,114.4,-8.7,108,-7.8,106,-7.4],
    [109,0.3,109.6,2,113,1.2,115.5,3.8,117.6,4.2,119,1,117.5,0.5,116.5,-2,116,-4,114.5,-4,111,-3,110,-1.5],
    [119.5,-5.5,120.5,-5.5,120.3,-3,121.5,-4.8,123,-5,121.5,-2,123.3,-0.9,121,-0.9,120,0.7,125,1.5,120.5,1.2,119.7,0,119.5,-3],
    [131,-0.8,134,-0.8,135,-3.3,138,-1.7,141,-2.6,141,-9.1,139,-8,138,-8.3,138,-5.5,133,-4,132.8,-2.8,134,-2.3,132,-2.5]
  ],
  'Lesser Sunda': [[120,-8.3,123,-8.3,122,-8.8,120,-8.8],[116,-8.5,119,-8.3,118,-8.9],[123.5,-10.3,127.2,-8.4,125,-8.9],[128,-3,130.8,-3.3,129,-3.5],[127.5,1.5,128.5,1.5,128,-0.5]],
  'Malaysia': [
    [100,6.5,101.3,6.7,102.2,6.2,103.5,4.3,104.2,1.4,103.5,1.3,101.3,3,100.4,5.5],
    [109.6,2,111.3,2.5,113,3.2,115,5,116.7,7,119.2,5.2,117.6,4.2,115.5,3.8,113,1.2]
  ],
  'Papua New Guinea': [[141,-2.6,145,-4.3,147.8,-6.2,147,-7,150.8,-10.3,148,-10.2,144,-7.7,143,-9.2,141,-9.1]],
  'Melanesia': [[148.3,-5.7,152,-4.2,152,-5.5,149,-6.2],[151,-2.8,153,-4.5,152.7,-3.6],[155,-5.5,155.8,-6.9,155,-6.5],[164,-20.2,167,-22.3,166,-22.3],[177.3,-17.5,178.7,-18,177.5,-18.3]],
  'Australia': [
    [113.5,-22,114.2,-26,115.5,-31.5,115,-34.3,118,-35,124,-33,129,-31.7,131.5,-31.5,135,-34.5,138,-33,138,-35.5,140,-38,143.5,-38.8,146.4,-39,150,-37.5,151.3,-33.7,153.5,-28,153,-25.5,149,-21.5,146,-19,145.3,-15,143.5,-14,142.5,-10.8,141.5,-13,141,-17,139.5,-17.5,135.5,-15,136.5,-12,131,-11.5,129.5,-15,126,-14,122,-18,117,-20.5],
    [144.7,-40.7,148.3,-40.9,148,-43,146,-43.5,145,-42]
  ],
  'New Zealand': [
    [172.7,-34.5,175.5,-36.5,178.4,-37.7,177,-39.5,175.3,-41.6,174.7,-39.8,174.6,-38],
    [172.7,-40.5,174.3,-41.7,171,-45,170.5,-46,167.5,-46.2,168.3,-44]
  ]
};

var island = function (p) {
  var r = 0.45;
  return [p[0] - r, p[1], p[0], p[1] + r, p[0] + r, p[1], p[0], p[1] - r];
};
worldShapes['Minor islands'] = minorIslands.map(island);

var features = Object.keys(worldShapes).map(function (name) {
  var polygons = worldShapes[name].map(function (flat) {
    var ring = [];
    for (var i = 0; i < flat.length; i += 2) {
      ring.push([flat[i], flat[i + 1]]);
    }
    ring.push(ring[0]);
    return [ring];
  });
  return { type: 'Feature', properties: { name: name }, geometry: { type: 'MultiPolygon', coordinates: polygons } };
});
echarts.registerMap('unctad', { type: 'FeatureCollection', features: features });

document.getElementById('cards').innerHTML = statValues.map(function (v, i) {
  return '<div class="card" style="left:' + statLefts[i] + 'px">' +
    '<div class="pct" style="color:' + statColors[i] + '">' + v + '</div>' +
    '<div class="lab">COUNTRIES WITH<br><b>' + statLabels[i] + '</b></div></div>';
}).join('');

var mapData = [];
[legislationCountries, draftCountries, noLegislationCountries, noDataCountries].forEach(function (list, status) {
  list.forEach(function (name) {
    mapData.push({ name: name, value: status });
  });
});
outlineOnly.forEach(function (name) {
  mapData.push({ name: name, value: 9, itemStyle: { areaColor: '#fff', borderColor: '#d4d4d4', borderWidth: 0.7 } });
});

var myChart = echarts.init(document.getElementById('worldMap'), null, { renderer: 'canvas' });
var option = {
  animation: false,
  title: {
    text: 'Data Protection and Privacy Legislation Worldwide',
    left: 385,
    top: 147,
    textAlign: 'center',
    textStyle: { fontFamily: '"Liberation Sans", Arial, sans-serif', fontSize: 13.6, fontWeight: 'normal', color: '#333' }
  },
  visualMap: {
    type: 'piecewise',
    orient: 'vertical',
    inverse: true,
    left: 27,
    top: 388,
    padding: [5, 5, 5, 8],
    itemWidth: 8,
    itemHeight: 8,
    itemGap: 2,
    textGap: 5,
    itemSymbol: 'rect',
    selectedMode: false,
    hoverLink: false,
    showLabel: true,
    align: 'left',
    borderColor: '#bbb',
    borderWidth: 1,
    backgroundColor: '#fff',
    textStyle: { fontFamily: '"DejaVu Sans", sans-serif', fontSize: 7.3, color: '#a2a2a2' },
    pieces: legendLabels.map(function (label, i) {
      return { value: i, label: label, color: legendColors[i] };
    }),
    outOfRange: { color: '#fff' }
  },
  graphic: [{
    type: 'text',
    left: 652,
    top: 438,
    style: { text: 'Source: UNCTAD, 14/12/2021', font: '7px "DejaVu Sans", sans-serif', fill: '#a2a2a2' }
  }],
  series: [{
    type: 'map',
    map: 'unctad',
    boundingCoords: [[-180, 90], [180, -90]],
    aspectScale: 1,
    left: 58,
    top: 168,
    width: 664,
    height: 332,
    roam: false,
    silent: true,
    label: { show: false },
    emphasis: { disabled: true },
    itemStyle: { areaColor: '#fff', borderColor: '#fff', borderWidth: 0.7 },
    data: mapData
  }]
};
option && myChart.setOption(option);
</script>
</body>
</html>
